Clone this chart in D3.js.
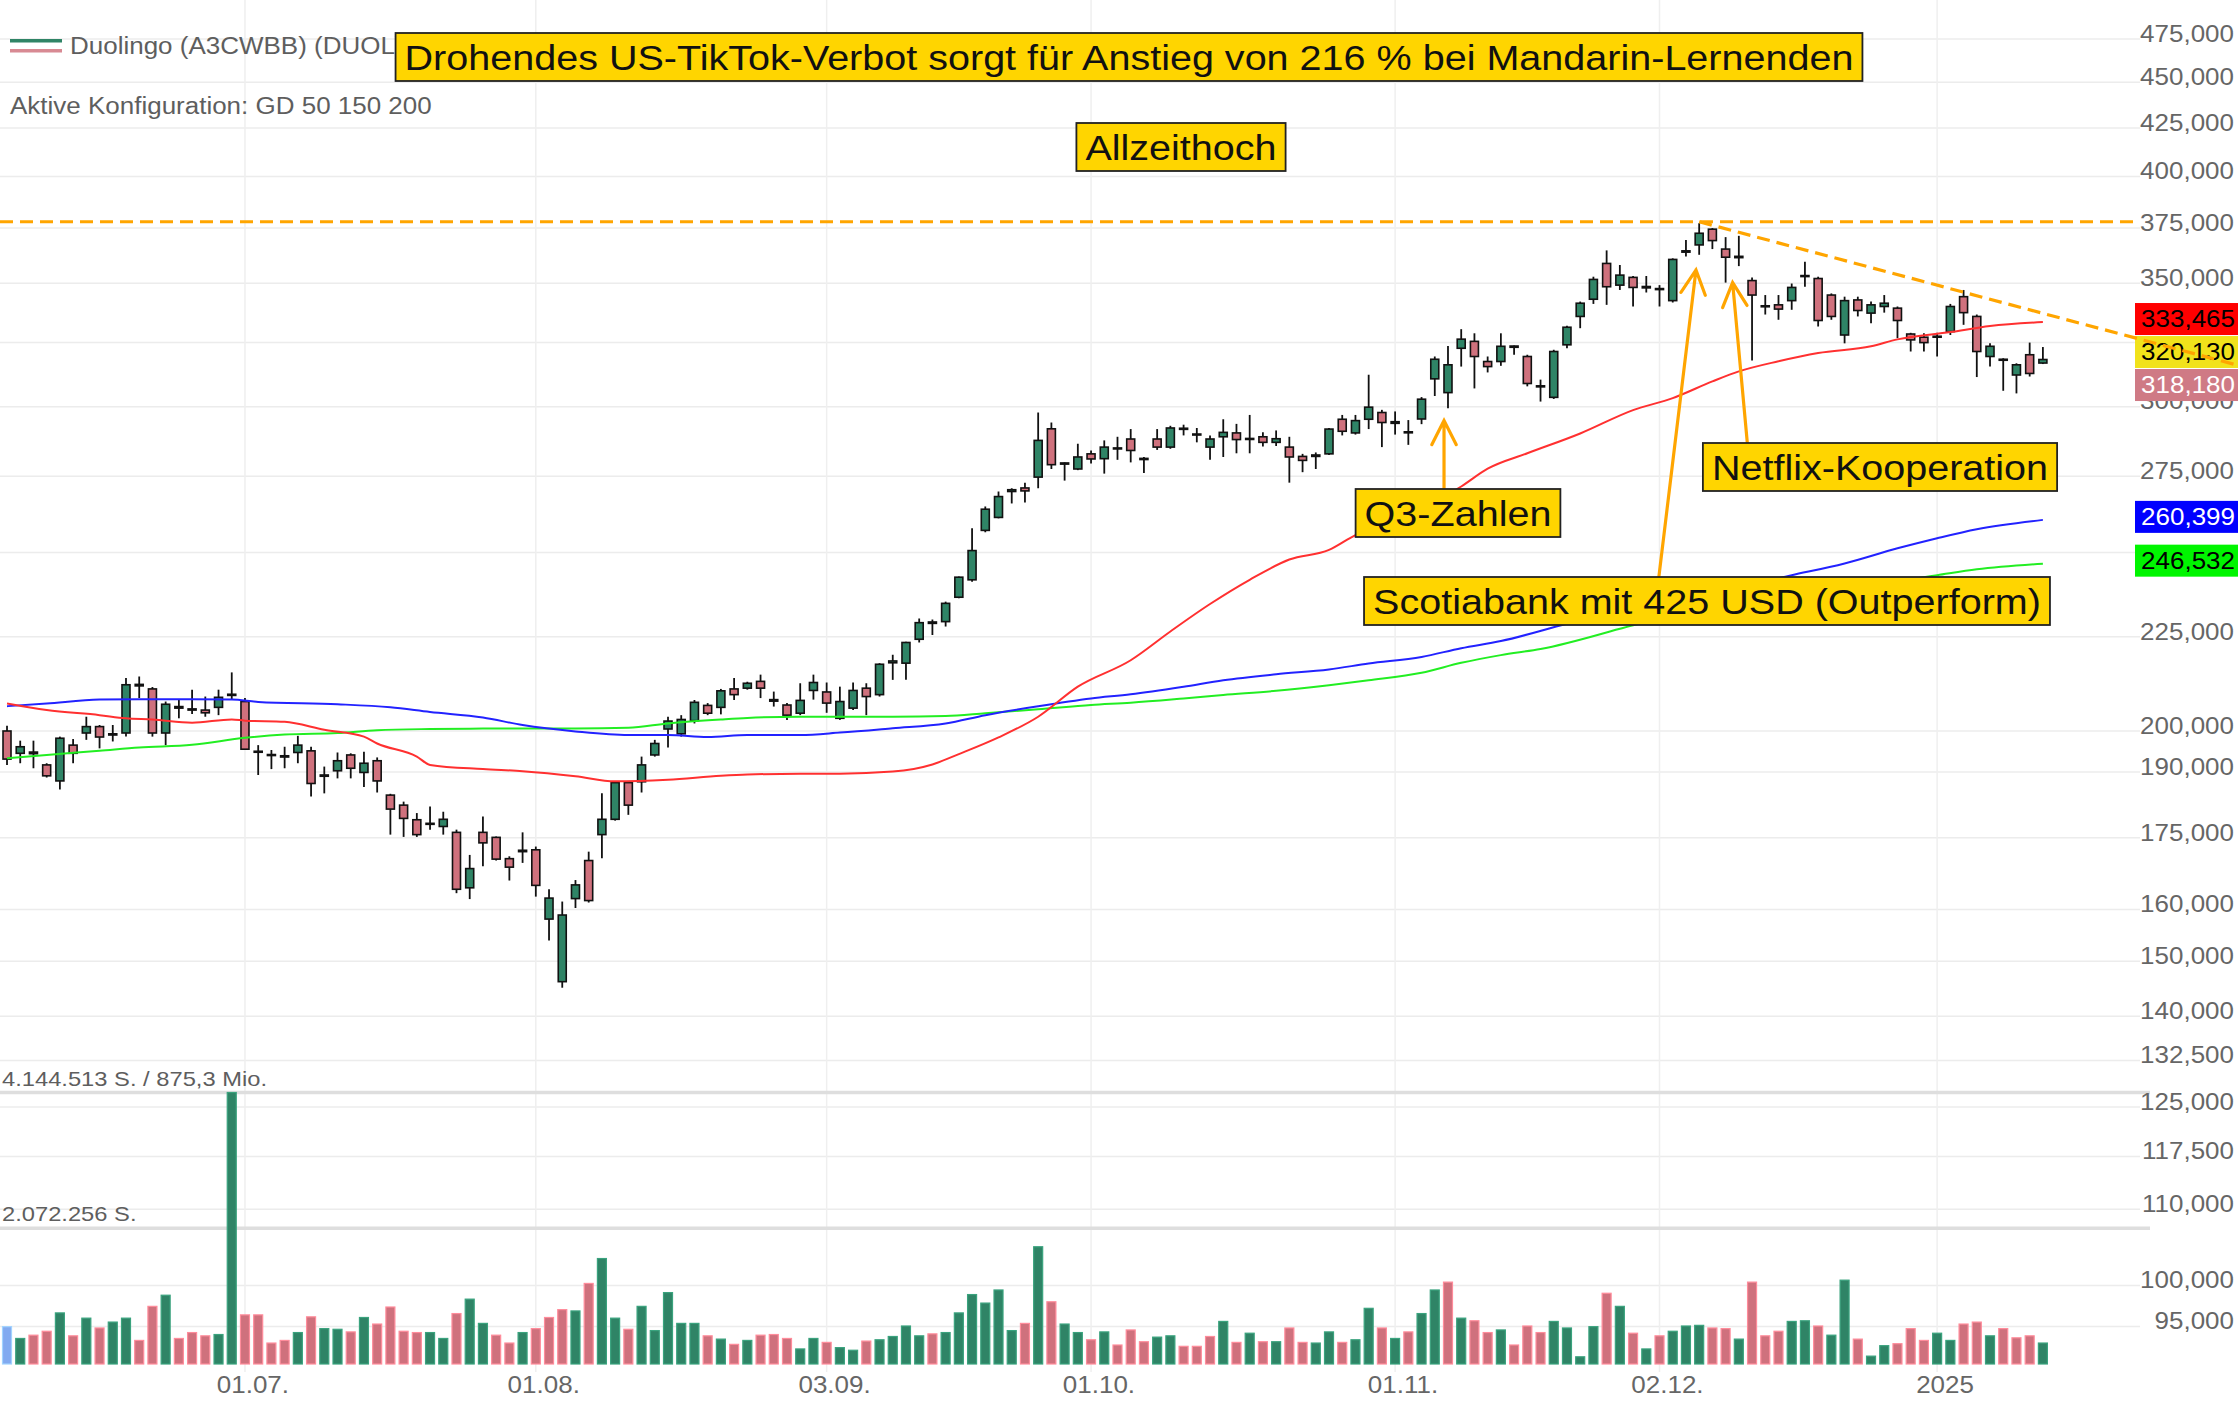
<!DOCTYPE html>
<html lang="de">
<head>
    <meta charset="UTF-8">
    <title>Duolingo (DUOL) Kerzenchart</title>
    <script src="https://cdn.jsdelivr.net/npm/d3@7/dist/d3.min.js"></script>
    <style>
        body { margin: 0; background: #fff; }
        svg { display: block; font-family: "Liberation Sans", Arial, sans-serif; }
    </style>
</head>
<body>
<div id="container"></div>
<script>
    const width = 2238;
    const height = 1404;

    // Handelstage pro Monat
    const tradingDays = {
        '2024-06': [4, 5, 6, 7, 10, 11, 12, 13, 14, 17, 18, 20, 21, 24, 25, 26, 27, 28],
        '2024-07': [1, 2, 3, 5, 8, 9, 10, 11, 12, 15, 16, 17, 18, 19, 22, 23, 24, 25, 26, 29, 30, 31],
        '2024-08': [1, 2, 5, 6, 7, 8, 9, 12, 13, 14, 15, 16, 19, 20, 21, 22, 23, 26, 27, 28, 29, 30],
        '2024-09': [3, 4, 5, 6, 9, 10, 11, 12, 13, 16, 17, 18, 19, 20, 23, 24, 25, 26, 27, 30],
        '2024-10': [1, 2, 3, 4, 7, 8, 9, 10, 11, 14, 15, 16, 17, 18, 21, 22, 23, 24, 25, 28, 29, 30, 31],
        '2024-11': [1, 4, 5, 6, 7, 8, 11, 12, 13, 14, 15, 18, 19, 20, 21, 22, 25, 26, 27, 29],
        '2024-12': [2, 3, 4, 5, 6, 9, 10, 11, 12, 13, 16, 17, 18, 19, 20, 23, 24, 26, 27, 30, 31],
        '2025-01': [2, 3, 6, 7, 8, 10, 13, 14, 15]
    };
    const dates = Object.entries(tradingDays)
        .flatMap(([m, days]) => days.map(d => `${m}-${String(d).padStart(2, '0')}`));

    const open = [200.0, 194.5, 194.8, 191.7, 187.9, 196.5, 199.5, 201.1, 199.0, 199.5,
        212.0, 210.8, 199.5, 206.2, 205.6, 205.3, 206.0, 209.1, 207.5, 195.0,
        194.2, 193.9, 194.7, 195.1, 189.0, 190.3, 194.1, 189.9, 192.7, 184.6,
        182.3, 179.0, 178.0, 177.5, 176.2, 164.4, 176.2, 175.1, 170.5, 172.0,
        172.4, 158.1, 146.2, 162.2, 170.1, 175.7, 179.1, 187.5, 187.7, 194.1,
        200.5, 199.3, 202.6, 206.5, 206.0, 210.8, 211.0, 212.8, 208.0, 206.6,
        204.5, 210.4, 210.0, 203.2, 205.8, 211.0, 209.3, 217.8, 217.7, 224.3,
        229.2, 229.3, 236.4, 241.6, 257.0, 261.2, 269.8, 271.0, 274.7, 291.8,
        279.2, 277.5, 282.8, 281.1, 284.9, 288.1, 281.2, 288.1, 285.2, 292.0,
        289.9, 285.2, 288.9, 290.3, 288.0, 288.9, 286.9, 285.2, 281.9, 281.9,
        282.8, 295.3, 290.3, 295.3, 297.8, 293.8, 290.5, 295.4, 310.6, 305.3,
        322.7, 325.5, 317.4, 317.4, 323.6, 319.4, 307.5, 303.5, 324.1, 335.8,
        343.1, 358.8, 349.2, 352.6, 348.0, 347.7, 342.5, 363.9, 367.2, 374.5,
        365.3, 361.4, 351.2, 340.3, 340.7, 342.5, 353.0, 352.1, 344.9, 328.1,
        342.8, 337.2, 340.0, 339.3, 328.5, 327.2, 327.3, 329.5, 344.2, 335.8,
        319.4, 318.0, 312.1, 320.1, 316.8];
    const high = [201.3, 197.6, 197.6, 192.1, 198.6, 198.0, 203.6, 201.5, 201.5, 213.7,
        214.1, 211.3, 207.5, 207.9, 210.6, 208.8, 210.6, 215.2, 208.4, 196.5,
        195.3, 196.1, 198.8, 196.1, 191.3, 194.7, 194.5, 194.9, 193.5, 184.9,
        183.1, 180.5, 182.0, 180.8, 176.8, 171.3, 179.7, 175.3, 171.0, 176.2,
        173.1, 164.1, 161.6, 166.0, 172.0, 185.0, 187.7, 187.7, 193.7, 197.8,
        203.6, 204.0, 207.9, 207.1, 210.8, 213.7, 212.7, 214.6, 210.1, 207.1,
        212.3, 214.6, 212.5, 211.4, 212.5, 212.3, 217.7, 220.0, 223.6, 230.2,
        229.9, 235.1, 242.6, 257.7, 264.8, 269.8, 270.9, 272.8, 297.8, 294.1,
        279.8, 286.4, 284.0, 287.6, 288.9, 291.7, 281.7, 291.7, 292.9, 293.3,
        292.1, 289.4, 295.3, 293.6, 296.9, 290.5, 291.2, 288.9, 282.8, 283.3,
        292.1, 296.9, 296.9, 312.2, 298.8, 298.2, 295.0, 303.6, 319.4, 323.6,
        330.5, 328.8, 319.4, 328.8, 323.8, 320.1, 310.3, 322.1, 331.9, 342.1,
        352.9, 364.7, 358.1, 353.2, 353.2, 349.2, 361.1, 369.5, 377.3, 375.0,
        370.8, 371.4, 352.6, 344.9, 344.9, 349.9, 359.6, 352.9, 345.6, 344.2,
        344.2, 342.1, 344.9, 340.0, 329.0, 328.8, 329.0, 341.1, 347.1, 336.6,
        324.7, 318.7, 316.7, 325.0, 323.2];
    const low = [191.7, 192.1, 190.9, 188.7, 185.9, 192.1, 197.8, 195.7, 197.4, 198.6,
        208.4, 198.6, 196.5, 203.2, 204.3, 203.6, 204.0, 207.9, 195.3, 189.3,
        190.7, 190.9, 192.1, 184.3, 185.0, 188.5, 188.5, 186.5, 185.2, 175.7,
        175.2, 175.2, 176.8, 175.7, 163.3, 162.1, 168.9, 170.1, 165.9, 169.6,
        162.6, 153.9, 145.1, 160.3, 161.4, 170.6, 178.8, 180.1, 185.2, 193.7,
        195.9, 198.6, 201.9, 204.0, 204.2, 207.9, 210.6, 208.4, 206.2, 202.8,
        204.0, 208.0, 204.6, 202.8, 205.3, 204.0, 208.8, 213.2, 213.2, 223.4,
        225.5, 227.9, 236.1, 241.0, 256.4, 260.9, 265.8, 266.1, 270.9, 277.5,
        273.5, 277.1, 279.4, 275.9, 280.7, 279.8, 276.1, 284.2, 284.6, 289.4,
        286.9, 280.7, 281.7, 283.0, 283.0, 285.4, 285.6, 272.8, 276.4, 277.5,
        282.4, 289.4, 289.7, 291.7, 285.2, 289.7, 286.0, 293.5, 304.0, 299.4,
        315.4, 306.9, 313.1, 315.7, 320.1, 307.7, 301.9, 302.9, 322.7, 330.9,
        341.1, 340.7, 347.1, 340.0, 346.0, 340.0, 341.7, 361.9, 362.7, 365.3,
        350.3, 357.6, 317.8, 336.6, 334.4, 338.6, 348.5, 331.6, 334.4, 324.7,
        335.8, 333.0, 337.4, 326.8, 321.4, 321.4, 319.4, 328.1, 332.3, 311.3,
        315.4, 306.0, 305.0, 311.5, 316.4];
    const close = [193.1, 196.1, 194.4, 189.1, 198.2, 194.5, 201.1, 198.5, 199.3, 211.9,
        211.6, 199.5, 206.8, 205.8, 205.3, 204.6, 208.6, 209.4, 195.5, 194.8,
        194.0, 193.6, 196.5, 187.3, 189.3, 192.7, 190.9, 192.1, 187.9, 181.4,
        179.3, 175.7, 178.2, 179.1, 164.1, 168.4, 173.9, 170.4, 168.7, 172.3,
        164.9, 162.3, 158.9, 165.0, 161.8, 179.1, 187.5, 182.3, 191.7, 196.9,
        202.5, 202.9, 207.3, 204.5, 210.3, 209.3, 212.3, 211.0, 207.6, 204.0,
        207.8, 212.5, 207.1, 207.5, 210.4, 208.8, 217.4, 218.3, 223.4, 229.0,
        228.8, 234.6, 242.4, 250.6, 263.9, 268.1, 270.4, 270.0, 287.6, 279.0,
        279.6, 281.7, 281.0, 285.2, 284.8, 284.0, 280.8, 285.2, 292.1, 291.6,
        289.7, 288.1, 290.5, 287.9, 288.3, 286.9, 288.2, 281.7, 280.5, 282.4,
        291.7, 290.9, 294.8, 299.8, 294.1, 294.4, 290.7, 302.8, 318.3, 316.1,
        326.4, 319.4, 315.4, 323.5, 323.1, 308.8, 307.9, 321.4, 331.3, 341.4,
        351.7, 348.5, 353.6, 348.2, 348.6, 347.5, 360.6, 364.5, 372.6, 369.2,
        361.6, 362.0, 344.9, 340.0, 338.9, 348.2, 353.4, 334.1, 335.8, 342.5,
        338.3, 340.7, 341.4, 334.1, 326.1, 325.0, 327.6, 340.0, 337.4, 321.4,
        323.5, 318.3, 316.1, 312.7, 318.2];
    // Volumen in Mio. Stück
    const volume = [0.57, 0.39, 0.44, 0.50, 0.78, 0.43, 0.70, 0.55, 0.64, 0.70,
        0.36, 0.88, 1.05, 0.39, 0.48, 0.43, 0.45, 4.1445, 0.75, 0.75,
        0.32, 0.36, 0.48, 0.72, 0.54, 0.53, 0.49, 0.71, 0.61, 0.87,
        0.50, 0.48, 0.48, 0.39, 0.77, 0.99, 0.62, 0.44, 0.32, 0.48,
        0.54, 0.71, 0.83, 0.81, 1.23, 1.61, 0.70, 0.53, 0.88, 0.51,
        1.09, 0.62, 0.62, 0.43, 0.38, 0.30, 0.36, 0.44, 0.45, 0.39,
        0.23, 0.39, 0.33, 0.25, 0.21, 0.35, 0.37, 0.42, 0.58, 0.43,
        0.46, 0.48, 0.78, 1.06, 0.93, 1.13, 0.51, 0.62, 1.79, 0.95,
        0.61, 0.48, 0.37, 0.49, 0.29, 0.52, 0.34, 0.41, 0.43, 0.27,
        0.27, 0.42, 0.65, 0.33, 0.47, 0.34, 0.34, 0.55, 0.33, 0.32,
        0.49, 0.33, 0.37, 0.85, 0.55, 0.39, 0.49, 0.77, 1.13, 1.25,
        0.70, 0.66, 0.48, 0.52, 0.29, 0.58, 0.48, 0.65, 0.55, 0.11,
        0.57, 1.08, 0.88, 0.47, 0.23, 0.43, 0.50, 0.58, 0.59, 0.55,
        0.54, 0.38, 1.25, 0.43, 0.50, 0.65, 0.66, 0.58, 0.44, 1.28,
        0.38, 0.12, 0.28, 0.31, 0.54, 0.36, 0.47, 0.36, 0.61, 0.64,
        0.43, 0.54, 0.40, 0.43, 0.32];

    // gleitende Durchschnitte [Handelstag-Index, Wert]
    const gd50 = [[0, 207.0], [3, 205.3], [7, 204.0], [9, 203.2], [11, 202.9], [14, 202.1], [17, 202.9],
        [18, 202.6], [21, 202.3], [24, 200.3], [27, 198.6], [28, 196.9], [31, 193.7], [32, 191.7],
        [36, 190.7], [39, 190.2], [43, 189.0], [46, 187.8], [50, 188.2], [54, 189.1], [56, 189.4],
        [60, 189.6], [63, 189.6], [67, 190.1], [70, 191.8], [72, 194.3], [75, 198.4], [78, 203.6],
        [81, 211.4], [85, 218.5], [88, 226.5], [91, 234.4], [94, 241.6], [97, 247.8], [100, 250.8],
        [102, 255.5], [105, 260.4], [110, 271.5], [112, 277.6], [115, 283.0], [119, 290.1],
        [123, 298.7], [126, 303.2], [129, 309.6], [131, 313.5], [134, 317.5], [137, 320.8],
        [141, 323.5], [143, 326.3], [147, 329.3], [150, 331.8], [154, 333.465]];
    const gd150 = [[0, 206.3], [3, 207.0], [7, 208.0], [10, 208.1], [14, 208.1], [17, 208.0], [19, 207.4],
        [25, 206.8], [29, 206.0], [32, 204.8], [36, 203.4], [39, 201.5], [43, 199.9], [47, 199.0],
        [50, 199.0], [53, 198.5], [56, 199.0], [60, 199.0], [63, 199.6], [67, 200.7], [71, 201.9],
        [74, 204.0], [78, 206.3], [82, 208.3], [85, 209.4], [89, 211.4], [92, 213.1], [96, 214.7],
        [100, 216.0], [103, 217.6], [107, 219.4], [110, 221.8], [113, 223.8], [118, 228.7],
        [135, 243.0], [139, 246.6], [143, 251.3], [146, 254.5], [149, 257.4], [154, 260.399]];
    const gd200 = [[0, 193.3], [3, 194.1], [7, 195.1], [10, 195.9], [14, 196.6], [18, 198.3], [21, 199.1],
        [25, 199.5], [28, 200.2], [32, 200.5], [36, 200.6], [43, 200.6], [47, 200.8], [50, 201.9],
        [54, 202.9], [56, 203.3], [60, 203.6], [67, 203.6], [71, 203.8], [74, 204.5], [78, 205.5],
        [82, 206.6], [85, 207.2], [89, 208.3], [92, 209.2], [96, 210.3], [100, 211.8], [103, 213.1],
        [107, 215.1], [110, 217.8], [113, 219.9], [116, 221.6], [124, 229.2], [146, 243.0],
        [149, 244.8], [154, 246.532]];

    const priceTicks = [475, 450, 425, 400, 375, 350, 325, 300, 275, 250, 225, 200, 190, 175, 160, 150,
        140, 132.5, 125, 117.5, 110, 100, 95];
    // Beschriftungen, die im Original ganz unter den Kursboxen liegen
    const hiddenTickLabels = [325, 250];
    const dateTicks = [['2024-07-01', '01.07.'], ['2024-08-01', '01.08.'], ['2024-09-03', '03.09.'],
        ['2024-10-01', '01.10.'], ['2024-11-01', '01.11.'], ['2024-12-02', '02.12.'], ['2025-01-02', '2025']];

    const athPrice = 378;
    const trendPoints = [[128, 378], [154, 337.1]];
    const volMaxShares = 4144513;
    const volMaxTurnover = 875.3;

    const lastValues = [
        { value: 333.465, fill: '#ff0000', color: '#000' },
        { value: 320.130, fill: '#f1e21b', color: '#000' },
        { value: 318.180, fill: '#cf7a85', color: '#fff' },
        { value: 260.399, fill: '#0000ff', color: '#fff' },
        { value: 246.532, fill: '#00f500', color: '#000' }
    ];

    const notes = [
        { text: 'Drohendes US-TikTok-Verbot sorgt für Anstieg von 216 % bei Mandarin-Lernenden', cx: 1129, cy: 57 },
        { text: 'Allzeithoch', cx: 1181, cy: 147 },
        { text: 'Q3-Zahlen', cx: 1458, cy: 513 },
        { text: 'Netflix-Kooperation', cx: 1880, cy: 467 },
        { text: 'Scotiabank mit 425 USD (Outperform)', cx: 1707, cy: 601 }
    ];
    // Pfeile [Index, Kurs] von Box zu Kerze
    const arrows = [
        { from: [108.7, 270.7], to: [108.7, 294.8] },
        { from: [124.96, 242.8], to: [127.76, 355.9] },
        { from: [131.64, 286.8], to: [130.53, 350.3] }
    ];

    const SX = 1.13; // Text ist im Original horizontal gestreckt
    const upColor = '#2f8466';
    const downColor = '#cf717d';
    const orange = '#ffa500';
    const plotRight = 2140;
    const volBase = 1364;

    const x = d3.scaleBand().domain(dates).range([0.4, 2049.5]).padding(0);
    const step = x.step();
    const xAt = i => {
        const k = Math.min(Math.floor(i), dates.length - 1);
        return x(dates[k]) + step / 2 + (i - k) * step;
    };
    const y = d3.scaleLog().domain([95, 475]).range([39 + 800 * Math.log(5), 39]);
    const yVol = d3.scaleLinear().domain([0, volMaxShares / 1e6]).range([volBase, volBase - 271.5]);

    const de = d3.formatLocale({ decimal: ',', thousands: '.', grouping: [3], currency: ['', ''] });
    const fmtInt = de.format(',d');
    const fmtPrice = v => v.toFixed(3).replace('.', ',');

    const svg = d3.select('#container').append('svg')
        .attr('width', width)
        .attr('height', height);

    function addText(parent, tx, ty, str, o = {}) {
        return parent.append('text')
            .attr('transform', `translate(${tx},${ty}) scale(${SX},1)`)
            .attr('text-anchor', o.anchor || 'start')
            .attr('dominant-baseline', 'central')
            .attr('font-size', o.size || 23)
            .attr('fill', o.fill || '#5e5e5e')
            .text(str);
    }

    // Gitter
    const grid = svg.append('g');
    grid.selectAll('line.h').data(priceTicks).join('line')
        .attr('x1', 0).attr('x2', plotRight)
        .attr('y1', d => y(d)).attr('y2', d => y(d))
        .attr('stroke', '#ececec').attr('stroke-width', 1.5);
    grid.selectAll('line.v').data(dateTicks).join('line')
        .attr('x1', d => xAt(dates.indexOf(d[0]))).attr('x2', d => xAt(dates.indexOf(d[0])))
        .attr('y1', 0).attr('y2', 1372)
        .attr('stroke', '#efefef').attr('stroke-width', 1.5);
    grid.selectAll('line.vol').data([volMaxShares / 1e6, Math.floor(volMaxShares / 2) / 1e6]).join('line')
        .attr('x1', 0).attr('x2', 2150)
        .attr('y1', d => yVol(d)).attr('y2', d => yVol(d))
        .attr('stroke', '#dedede').attr('stroke-width', 3.5);

    // Volumen
    const volColor = i => i === 0 ? '#82aaf0' : (close[i] >= close[i - 1] ? upColor : downColor);
    svg.append('g').selectAll('rect').data(volume).join('rect')
        .attr('x', (d, i) => xAt(i) - 4.5)
        .attr('width', 9)
        .attr('y', d => yVol(d))
        .attr('height', d => volBase - yVol(d))
        .attr('fill', (d, i) => volColor(i))
        .attr('stroke', (d, i) => d3.color(volColor(i)).brighter(0.6))
        .attr('stroke-width', 1.2);

    addText(svg, 2, yVol(volMaxShares / 1e6) - 14,
        `${fmtInt(volMaxShares)} S. / ${String(volMaxTurnover).replace('.', ',')} Mio.`, { size: 21 });
    addText(svg, 2, yVol(Math.floor(volMaxShares / 2) / 1e6) - 14,
        `${fmtInt(Math.floor(volMaxShares / 2))} S.`, { size: 21 });

    // Kerzen
    const candles = svg.append('g').selectAll('g').data(dates).join('g')
        .attr('transform', (d, i) => `translate(${xAt(i)},0)`);
    candles.append('line')
        .attr('y1', (d, i) => y(high[i]))
        .attr('y2', (d, i) => y(low[i]))
        .attr('stroke', '#111').attr('stroke-width', 1.8);
    candles.append('rect')
        .attr('x', -4).attr('width', 8)
        .attr('y', (d, i) => y(Math.max(open[i], close[i])))
        .attr('height', (d, i) => Math.max(1, Math.abs(y(open[i]) - y(close[i]))))
        .attr('fill', (d, i) => close[i] >= open[i] ? upColor : downColor)
        .attr('stroke', '#111').attr('stroke-width', 1.6);

    // GD-Linien
    const maLine = d3.line()
        .x(d => xAt(d[0]))
        .y(d => y(d[1]))
        .curve(d3.curveMonotoneX);
    [[gd200, '#22ee22'], [gd150, '#2222ff'], [gd50, '#ff3030']].forEach(([data, color]) => {
        svg.append('path')
            .datum(data)
            .attr('fill', 'none')
            .attr('stroke', color)
            .attr('stroke-width', 2)
            .attr('d', maLine);
    });

    // Allzeithoch
    svg.append('line')
        .attr('x1', 0).attr('x2', plotRight)
        .attr('y1', y(athPrice)).attr('y2', y(athPrice))
        .attr('stroke', orange).attr('stroke-width', 3.2)
        .attr('stroke-dasharray', '13,7');

    // Pfeile
    const arrowG = svg.append('g')
        .attr('stroke', orange).attr('stroke-width', 3.2)
        .attr('stroke-linecap', 'round').attr('fill', 'none');
    arrows.forEach(a => {
        const fx = xAt(a.from[0]), fy = y(a.from[1]);
        const tx = xAt(a.to[0]), ty = y(a.to[1]);
        const len = Math.hypot(tx - fx, ty - fy);
        const ux = (tx - fx) / len, uy = (ty - fy) / len;
        const L = 27, th = 27 * Math.PI / 180;
        const arm = s => [tx - L * (ux * Math.cos(th) - s * uy * Math.sin(th)),
            ty - L * (uy * Math.cos(th) + s * ux * Math.sin(th))];
        const [ax, ay] = arm(1), [bx, by] = arm(-1);
        arrowG.append('path').attr('d', `M${fx},${fy}L${tx},${ty}M${ax},${ay}L${tx},${ty}L${bx},${by}`);
    });

    // Legende oben links
    svg.append('line').attr('x1', 10).attr('x2', 62).attr('y1', 40.7).attr('y2', 40.7)
        .attr('stroke', upColor).attr('stroke-width', 3.5);
    svg.append('line').attr('x1', 10).attr('x2', 62).attr('y1', 50.7).attr('y2', 50.7)
        .attr('stroke', '#d88a93').attr('stroke-width', 3.5);
    addText(svg, 70, 46, 'Duolingo (A3CWBB) (DUOL)');
    addText(svg, 10, 106, 'Aktive Konfiguration: GD 50 150 200');

    // Textboxen
    notes.forEach(n => {
        const g = svg.append('g');
        const rect = g.append('rect');
        const t = addText(g, n.cx, n.cy + 1, n.text, { anchor: 'middle', size: 35, fill: '#111' });
        const w = t.node().getBBox().width * SX + 18;
        rect.attr('x', n.cx - w / 2).attr('y', n.cy - 24)
            .attr('width', w).attr('height', 48)
            .attr('fill', '#ffd500').attr('stroke', '#222').attr('stroke-width', 1.8);
    });

    // Kursachse
    const gy = svg.append('g').attr('transform', `translate(2234,-5)`)
        .call(d3.axisLeft(y).tickValues(priceTicks.filter(t => !hiddenTickLabels.includes(t)))
            .tickFormat(fmtPrice).tickSize(0).tickPadding(0));
    gy.select('.domain').remove();
    gy.attr('font-size', 23).attr('font-family', null);
    gy.selectAll('text').attr('fill', '#666').attr('transform', `scale(${SX},1)`);

    // Zeitachse
    const dateLabel = new Map(dateTicks);
    const gx = svg.append('g').attr('transform', `translate(0,${volBase})`)
        .call(d3.axisBottom(x).tickValues(dateTicks.map(d => d[0]))
            .tickFormat(d => dateLabel.get(d)).tickSize(0).tickPadding(13));
    gx.select('.domain').remove();
    gx.attr('font-size', 23).attr('font-family', null);
    gx.selectAll('text').attr('fill', '#666').attr('dx', 7).attr('transform', `scale(${SX},1)`);

    // Kursboxen rechts
    const boxH = 32;
    let prevBottom = -Infinity;
    lastValues.slice().sort((a, b) => b.value - a.value).forEach(v => {
        let top = y(v.value) - 3 - boxH / 2;
        if (top < prevBottom + 1) top = prevBottom + 1;
        prevBottom = top + boxH;
        svg.append('rect').attr('x', 2135).attr('y', top).attr('width', width - 2135).attr('height', boxH)
            .attr('fill', v.fill);
        addText(svg, 2235, top + boxH / 2, fmtPrice(v.value), { anchor: 'end', fill: v.color });
    });

    // Trendlinie (über die Boxen bis zum Rand)
    const p0 = [xAt(trendPoints[0][0]), y(trendPoints[0][1])];
    const p1 = [xAt(trendPoints[1][0]), y(trendPoints[1][1])];
    const slope = (p1[1] - p0[1]) / (p1[0] - p0[0]);
    svg.append('line')
        .attr('x1', p0[0]).attr('y1', p0[1])
        .attr('x2', width).attr('y2', p0[1] + slope * (width - p0[0]))
        .attr('stroke', orange).attr('stroke-width', 3.2)
        .attr('stroke-dasharray', '13,7');
</script>
</body>
</html>
